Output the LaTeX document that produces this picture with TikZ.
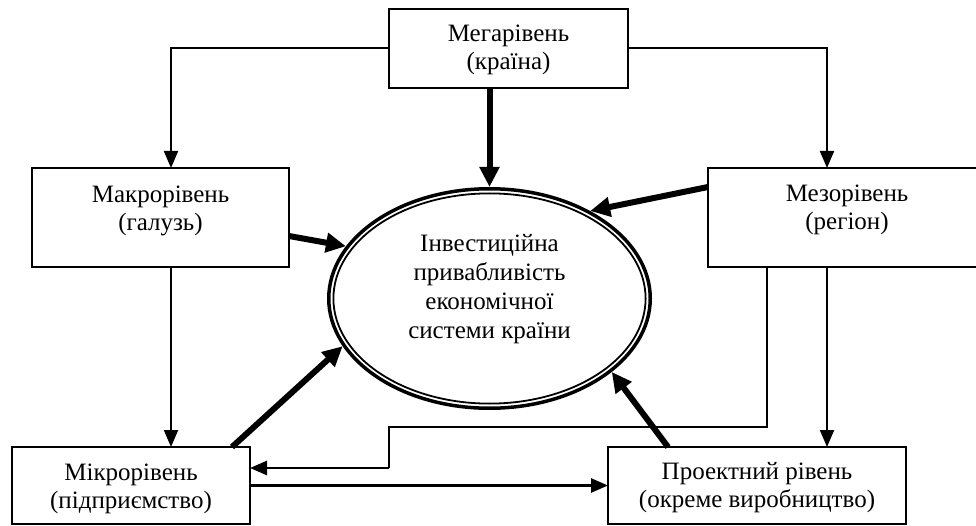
\documentclass[tikz,border=0pt]{standalone}
\usepackage{fontspec}
\setmainfont{Liberation Serif}
\usetikzlibrary{arrows.meta,shapes.geometric,calc}
\begin{document}
\begin{tikzpicture}[x=1pt,y=-1pt,
  box/.style={draw, line width=1.8pt, inner sep=0pt, outer sep=0pt},
  txt/.style={align=center, font=\fontsize{25}{28}\selectfont, inner sep=0pt},
  thinarr/.style={line width=2pt, -{Triangle[length=17pt,width=14pt]}},
  thickarr/.style={line width=6pt, -{Triangle[length=20pt,width=19pt]}},
  plainline/.style={line width=1.4pt}]
\clip (0,0) rectangle (976,526);
% boxes
\node[box, minimum width=239pt, minimum height=79pt] (mega) at (508.5,48.5) {};
\node[box, minimum width=257pt, minimum height=99pt] (makro) at (160.5,217.5) {};
\node[box, minimum width=278pt, minimum height=99pt] (mezo) at (847,217.5) {};
\node[box, minimum width=238pt, minimum height=77pt] (mikro) at (131,485.5) {};
\node[box, minimum width=298pt, minimum height=77pt] (proekt) at (757,485.5) {};
% ellipse (double border)
\node[ellipse, draw, line width=3.5pt, minimum width=321.5pt, minimum height=219.5pt, inner sep=0pt] (ell) at (489.5,298.5) {};
\node[ellipse, draw, line width=1.8pt, minimum width=312.2pt, minimum height=210.2pt, inner sep=0pt] (ellin) at (ell.center) {};
% texts
\node[txt] (tmega) at (508.5,50) {Мегарівень\\(країна)};
\node[txt] (tmakro) at (160.5,211) {Макрорівень\\(галузь)};
\node[txt] (tmezo) at (847,210) {Мезорівень\\(регіон)};
\node[txt] (tmikro) at (131,489) {Мікрорівень\\(підприємство)};
\node[txt] (tproekt) at (757,488) {Проектний рівень\\(окреме виробництво)};
\node[txt, font=\fontsize{25}{29}\selectfont] (tell) at (489.5,289) {Інвестиційна\\привабливість\\економічної\\системи країни};
% thin connectors
\draw[thinarr] (mega.west) -| ([xshift=10.5pt]makro.north);
\draw[thinarr] (mega.east) -| ([xshift=-20pt]mezo.north);
\draw[thinarr] ([xshift=10.5pt]makro.south) -- ([xshift=10.5pt]makro.south |- mikro.north);
\draw[thinarr] ([xshift=-20pt]mezo.south) -- ([xshift=-20pt]mezo.south |- proekt.north);
\coordinate (b1) at (389,427);
\coordinate (b2) at (389,468);
\draw[plainline] ([xshift=-80pt]mezo.south) |- (b1) -- (b2);
\draw[thinarr, line width=2.6pt] (b2) -- (b2 -| mikro.east);
\draw[thinarr, line width=2.6pt] (mikro.east) -- (proekt.west);
% thick connectors
\draw[thickarr] (ell.north |- mega.south) -- (ell.north);
\draw[thickarr] ([yshift=30.5pt]mezo.west) -- (ell.41.5);
\draw[thickarr] ([yshift=-18.5pt]makro.east) -- (ell.160);
\draw[thickarr] ([xshift=-18pt]mikro.north east) -- (ell.198.85);
\draw[thickarr] ([xshift=60pt]proekt.north west) -- (ell.-31.4);
\end{tikzpicture}
\end{document}
